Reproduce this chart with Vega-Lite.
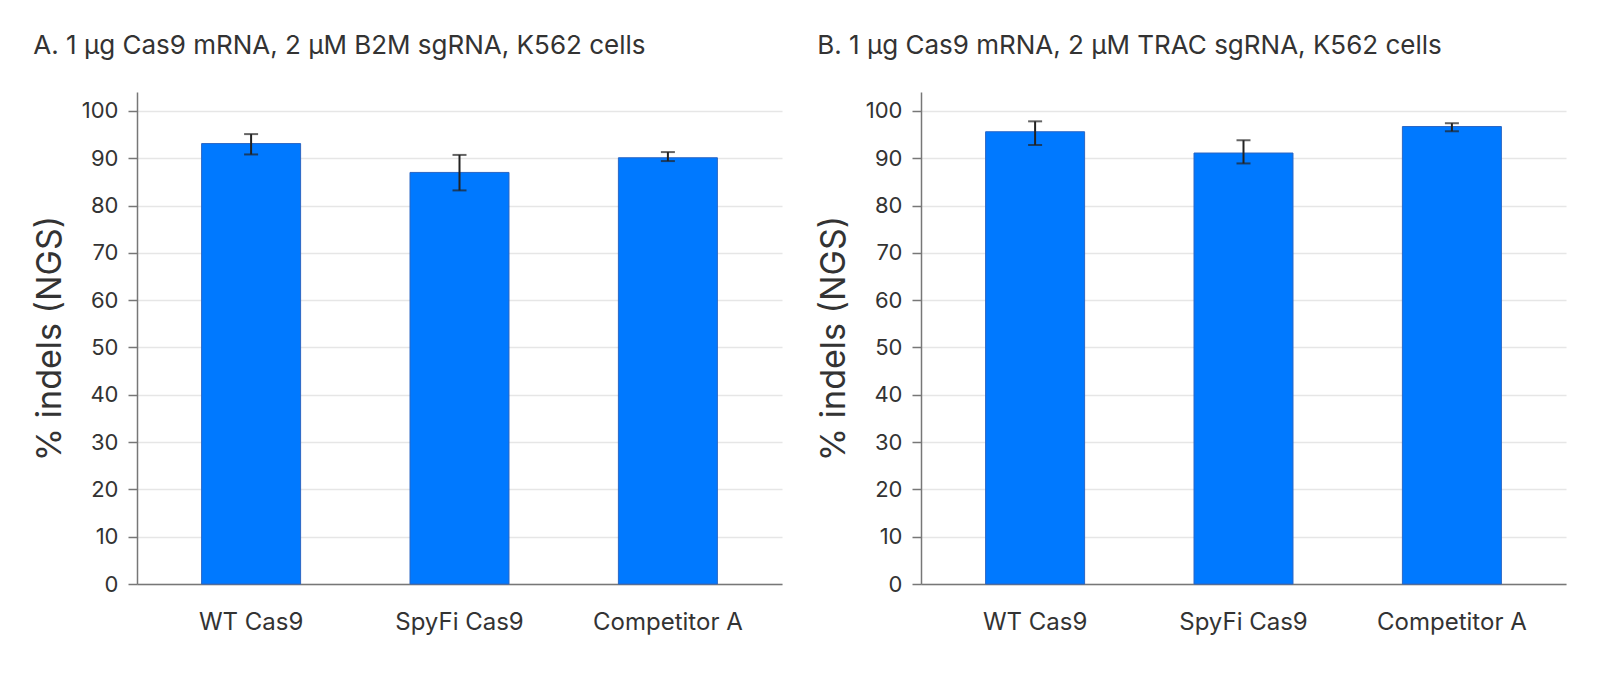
{
  "$schema": "https://vega.github.io/schema/vega-lite/v6.json",
  "padding": {"left": 33, "top": 33, "right": 33, "bottom": 5},
  "background": "white",
  "config": {
    "font": "Inter",
    "view": {"stroke": null},
    "concat": {"spacing": 35},
    "axis": {
      "labelFont": "Inter",
      "labelColor": "#333333",
      "labelFontSize": 22,
      "titleFont": "Inter",
      "titleColor": "#333333",
      "titleFontWeight": "normal",
      "domainColor": "#777777",
      "domainWidth": 1.5,
      "tickColor": "#777777",
      "tickWidth": 1.5,
      "gridColor": "#e6e6e6",
      "gridWidth": 1.5
    },
    "title": {
      "font": "Inter",
      "fontSize": 26,
      "fontWeight": "normal",
      "color": "#333333",
      "anchor": "start",
      "frame": "bounds",
      "offset": 33
    }
  },
  "datasets": {
    "indels": [
      {"panel": "A", "group": "WT Cas9", "value": 93.1, "lo": 90.8, "hi": 95.1},
      {"panel": "A", "group": "SpyFi Cas9", "value": 87.0, "lo": 83.2, "hi": 90.7},
      {"panel": "A", "group": "Competitor A", "value": 90.1, "lo": 89.4, "hi": 91.3},
      {"panel": "B", "group": "WT Cas9", "value": 95.6, "lo": 92.8, "hi": 97.8},
      {"panel": "B", "group": "SpyFi Cas9", "value": 91.1, "lo": 88.9, "hi": 93.8},
      {"panel": "B", "group": "Competitor A", "value": 96.7, "lo": 95.7, "hi": 97.4}
    ]
  },
  "hconcat": [
    {
      "title": "A. 1 µg Cas9 mRNA, 2 µM B2M sgRNA, K562 cells",
      "width": 645,
      "height": 492,
      "data": {"name": "indels"},
      "transform": [{"filter": "datum.panel === 'A'"}],
      "encoding": {
        "x": {
          "field": "group",
          "type": "nominal",
          "sort": ["WT Cas9", "SpyFi Cas9", "Competitor A"],
          "scale": {"paddingInner": 0.525, "paddingOuter": 0.31},
          "axis": {"title": null, "labelAngle": 0, "ticks": false, "labelPadding": 26, "labelFontSize": 24}
        }
      },
      "layer": [
        {
          "mark": {"type": "bar", "color": "#0079ff", "stroke": "#2a66c4", "strokeWidth": 1},
          "encoding": {
            "y": {
              "field": "value",
              "type": "quantitative",
              "scale": {"domain": [0, 104], "nice": false},
              "axis": {
                "title": "% indels (NGS)",
                "titleFontSize": 34,
                "titlePadding": 14,
                "values": [0, 10, 20, 30, 40, 50, 60, 70, 80, 90, 100],
                "tickSize": 9,
                "labelPadding": 10
              }
            }
          }
        },
        {
          "mark": {"type": "rule", "color": "#222222", "strokeWidth": 2},
          "encoding": {
            "y": {"field": "lo", "type": "quantitative"},
            "y2": {"field": "hi"}
          }
        },
        {
          "mark": {"type": "tick", "color": "#222222", "thickness": 2, "size": 14},
          "encoding": {"y": {"field": "lo", "type": "quantitative"}}
        },
        {
          "mark": {"type": "tick", "color": "#222222", "thickness": 2, "size": 14},
          "encoding": {"y": {"field": "hi", "type": "quantitative"}}
        }
      ]
    },
    {
      "title": "B. 1 µg Cas9 mRNA, 2 µM TRAC sgRNA, K562 cells",
      "width": 645,
      "height": 492,
      "data": {"name": "indels"},
      "transform": [{"filter": "datum.panel === 'B'"}],
      "encoding": {
        "x": {
          "field": "group",
          "type": "nominal",
          "sort": ["WT Cas9", "SpyFi Cas9", "Competitor A"],
          "scale": {"paddingInner": 0.525, "paddingOuter": 0.31},
          "axis": {"title": null, "labelAngle": 0, "ticks": false, "labelPadding": 26, "labelFontSize": 24}
        }
      },
      "layer": [
        {
          "mark": {"type": "bar", "color": "#0079ff", "stroke": "#2a66c4", "strokeWidth": 1},
          "encoding": {
            "y": {
              "field": "value",
              "type": "quantitative",
              "scale": {"domain": [0, 104], "nice": false},
              "axis": {
                "title": "% indels (NGS)",
                "titleFontSize": 34,
                "titlePadding": 14,
                "values": [0, 10, 20, 30, 40, 50, 60, 70, 80, 90, 100],
                "tickSize": 9,
                "labelPadding": 10
              }
            }
          }
        },
        {
          "mark": {"type": "rule", "color": "#222222", "strokeWidth": 2},
          "encoding": {
            "y": {"field": "lo", "type": "quantitative"},
            "y2": {"field": "hi"}
          }
        },
        {
          "mark": {"type": "tick", "color": "#222222", "thickness": 2, "size": 14},
          "encoding": {"y": {"field": "lo", "type": "quantitative"}}
        },
        {
          "mark": {"type": "tick", "color": "#222222", "thickness": 2, "size": 14},
          "encoding": {"y": {"field": "hi", "type": "quantitative"}}
        }
      ]
    }
  ]
}
